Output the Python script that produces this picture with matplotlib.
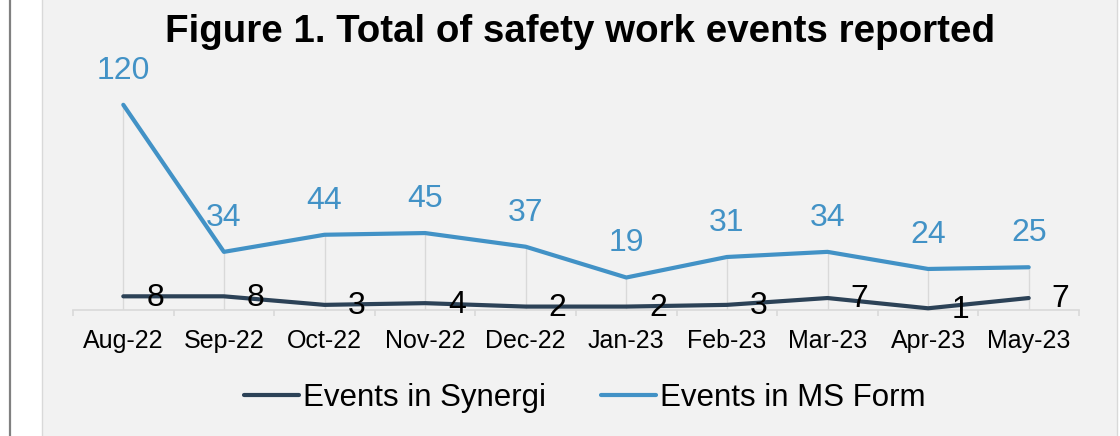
import matplotlib

matplotlib.use("Agg")
import matplotlib.pyplot as plt
from matplotlib.patches import Rectangle
from matplotlib.lines import Line2D

plt.rcParams["font.family"] = ["Liberation Sans", "DejaVu Sans"]

months = ["Aug-22", "Sep-22", "Oct-22", "Nov-22", "Dec-22",
          "Jan-23", "Feb-23", "Mar-23", "Apr-23", "May-23"]
synergi = [8, 8, 3, 4, 2, 2, 3, 7, 1, 7]
ms_form = [120, 34, 44, 45, 37, 19, 31, 34, 24, 25]

C_SYN = "#2c4257"
C_MS = "#4292c6"
GRID = "#d9d9d9"

W, H = 1120, 436
fig = plt.figure(figsize=(W / 100, H / 100), dpi=100)
fig.patch.set_facecolor("white")

# chart area box + left frame line (behind the axes)
fig.add_artist(Rectangle((42 / W, -0.01), (1117 - 42) / W, 1.02,
                         transform=fig.transFigure, facecolor="#f2f2f2",
                         edgecolor=GRID, lw=1, zorder=-10))
fig.add_artist(Line2D([9.5 / W, 9.5 / W], [0, 1], transform=fig.transFigure,
                      color="#808080", lw=1.6, zorder=-10))

ax = fig.add_axes([73 / W, 126 / H, (1079 - 73) / W, 239.4 / H])
ax.set_facecolor("none")
x = list(range(len(months)))

# drop lines
tops = [max(a, b) for a, b in zip(synergi, ms_form)]
ax.vlines(x, 0, tops, color=GRID, lw=1, zorder=1)

ax.plot(x, synergi, color=C_SYN, lw=3, solid_capstyle="round",
        solid_joinstyle="round", zorder=3, label="Events in Synergi", clip_on=False)
ax.plot(x, ms_form, color=C_MS, lw=3, solid_capstyle="round",
        solid_joinstyle="round", zorder=3, label="Events in MS Form", clip_on=False)

for xi, v in zip(x, ms_form):
    ax.annotate(str(v), (xi, v), xytext=(0, 24.5), textcoords="offset points",
                ha="center", va="center", fontsize=23, color=C_MS)
for xi, v in zip(x, synergi):
    ax.annotate(str(v), (xi, v), xytext=(23, -1), textcoords="offset points",
                ha="center", va="center", fontsize=23, color="black")

ax.set_xlim(-0.5, len(months) - 0.5)
ax.set_ylim(0, 140)
ax.set_yticks([])
for s in ["top", "right", "left"]:
    ax.spines[s].set_visible(False)
ax.spines["bottom"].set_color(GRID)
ax.spines["bottom"].set_linewidth(1.2)

ax.set_xticks(x)
ax.set_xticklabels(months, fontsize=18)
ax.tick_params(axis="x", which="major", length=0, pad=14)
ax.set_xticks([i - 0.5 for i in range(len(months) + 1)], minor=True)
ax.tick_params(axis="x", which="minor", length=4, color=GRID, width=1.2)

fig.text(580 / W, 1 - 32 / H, "Figure 1. Total of safety work events reported",
         ha="center", va="center", fontsize=27.7, fontweight="bold")

fig.legend(handles=ax.get_lines(), loc="center", bbox_to_anchor=(585 / W, 1 - 398 / H),
           ncol=2, frameon=False, fontsize=22.5, handlelength=1.75,
           handletextpad=0.15, columnspacing=1.75)

fig.savefig("out.png", dpi=100)
